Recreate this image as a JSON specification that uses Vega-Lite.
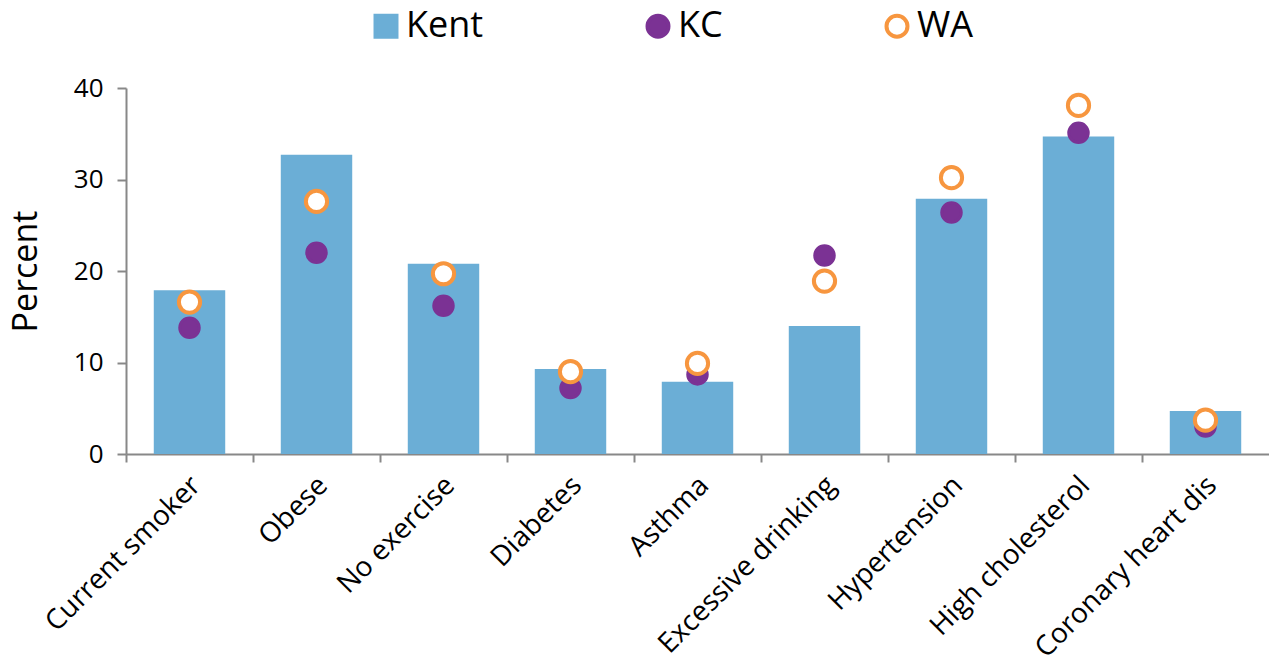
{
  "$schema": "https://vega.github.io/schema/vega-lite/v6.json",
  "width": 1143,
  "height": 366,
  "autosize": {"type": "none"},
  "padding": {"left": 126, "top": 88, "right": 0, "bottom": 208},
  "background": "white",
  "config": {
    "view": {"stroke": null},
    "font": "Open Sans",
    "axis": {"grid": false, "domainColor": "#888888", "tickColor": "#888888", "domainWidth": 2, "tickWidth": 2, "labelColor": "black", "titleColor": "black"},
    "legend": {
      "orient": "none",
      "legendX": 242,
      "legendY": -80,
      "direction": "horizontal",
      "labelFontSize": 36,
      "labelColor": "black",
      "labelOffset": 2,
      "columnPadding": 155,
      "padding": 0,
      "symbolSize": 440,
      "symbolStrokeWidth": 4,
      "symbolOpacity": 1
    }
  },
  "data": {
    "values": [
      {"category": "Current smoker", "series": "Kent", "value": 17.9},
      {"category": "Obese", "series": "Kent", "value": 32.7},
      {"category": "No exercise", "series": "Kent", "value": 20.8},
      {"category": "Diabetes", "series": "Kent", "value": 9.3},
      {"category": "Asthma", "series": "Kent", "value": 7.9},
      {"category": "Excessive drinking", "series": "Kent", "value": 14.0},
      {"category": "Hypertension", "series": "Kent", "value": 27.9},
      {"category": "High cholesterol", "series": "Kent", "value": 34.7},
      {"category": "Coronary heart dis", "series": "Kent", "value": 4.7},
      {"category": "Current smoker", "series": "KC", "value": 13.8},
      {"category": "Obese", "series": "KC", "value": 22.0},
      {"category": "No exercise", "series": "KC", "value": 16.2},
      {"category": "Diabetes", "series": "KC", "value": 7.2},
      {"category": "Asthma", "series": "KC", "value": 8.7},
      {"category": "Excessive drinking", "series": "KC", "value": 21.7},
      {"category": "Hypertension", "series": "KC", "value": 26.4},
      {"category": "High cholesterol", "series": "KC", "value": 35.1},
      {"category": "Coronary heart dis", "series": "KC", "value": 3.0},
      {"category": "Current smoker", "series": "WA", "value": 16.6},
      {"category": "Obese", "series": "WA", "value": 27.6},
      {"category": "No exercise", "series": "WA", "value": 19.7},
      {"category": "Diabetes", "series": "WA", "value": 9.0},
      {"category": "Asthma", "series": "WA", "value": 9.9},
      {"category": "Excessive drinking", "series": "WA", "value": 18.9},
      {"category": "Hypertension", "series": "WA", "value": 30.2},
      {"category": "High cholesterol", "series": "WA", "value": 38.1},
      {"category": "Coronary heart dis", "series": "WA", "value": 3.7}
    ]
  },
  "encoding": {
    "x": {
      "field": "category",
      "type": "nominal",
      "sort": null,
      "scale": {"paddingInner": 0, "paddingOuter": 0},
      "axis": {"title": null, "labelAngle": -45, "labelAlign": "right", "labelBaseline": "middle", "labelFontSize": 28, "labelPadding": 19, "labelOffset": 7, "tickSize": 8, "bandPosition": 0, "labelLimit": 400}
    },
    "y": {
      "field": "value",
      "type": "quantitative",
      "scale": {"domain": [0, 40], "nice": false},
      "axis": {"title": "Percent", "titleFontSize": 34, "titleFontWeight": "normal", "titlePadding": 30, "values": [0, 10, 20, 30, 40], "labelFontSize": 26, "labelPadding": 14, "tickSize": 9}
    },
    "fill": {
      "field": "series",
      "type": "nominal",
      "scale": {"domain": ["Kent", "KC", "WA"], "range": ["#6BAED6", "#7B3294", "#FFFFFF"]},
      "legend": {"title": null}
    },
    "stroke": {
      "field": "series",
      "type": "nominal",
      "scale": {"domain": ["Kent", "KC", "WA"], "range": ["#6BAED6", "#7B3294", "#F7963F"]},
      "legend": {"title": null}
    },
    "shape": {
      "field": "series",
      "type": "nominal",
      "scale": {"domain": ["Kent", "KC", "WA"], "range": ["square", "circle", "circle"]},
      "legend": {"title": null}
    }
  },
  "layer": [
    {
      "transform": [{"filter": "datum.series === 'Kent'"}],
      "mark": {"type": "bar", "width": {"band": 0.5625}, "opacity": 1, "strokeWidth": 0}
    },
    {
      "transform": [{"filter": "datum.series === 'KC'"}],
      "mark": {"type": "point", "size": 380, "strokeWidth": 3, "opacity": 1}
    },
    {
      "transform": [{"filter": "datum.series === 'WA'"}],
      "mark": {"type": "point", "size": 450, "strokeWidth": 4, "opacity": 1}
    }
  ]
}
